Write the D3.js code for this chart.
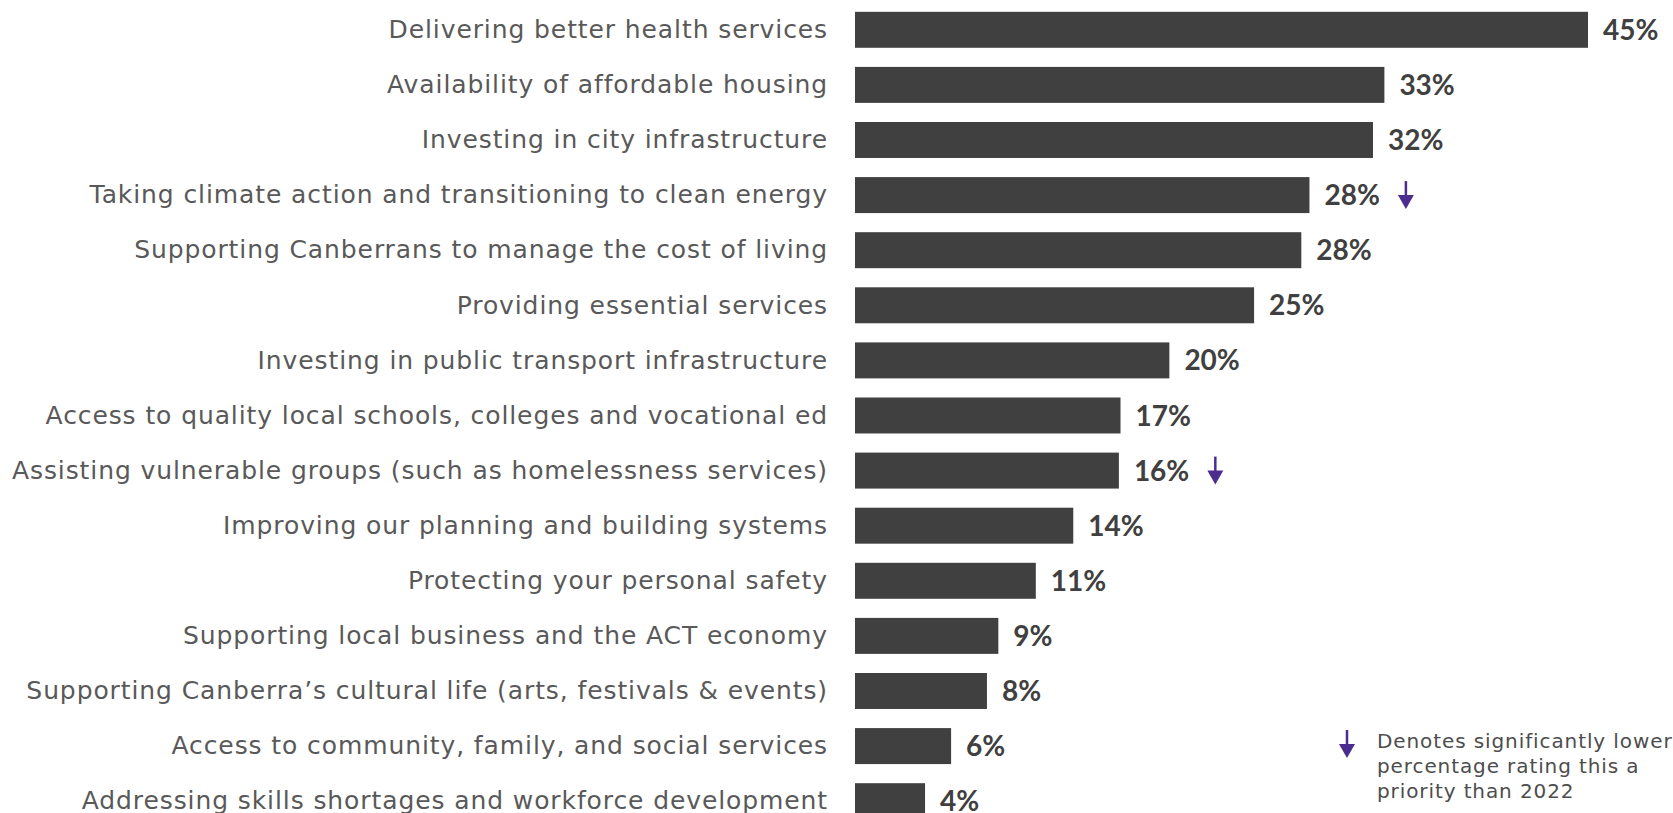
<!DOCTYPE html>
<html>
<head>
<meta charset="utf-8">
<script src="https://cdn.jsdelivr.net/npm/d3@7"></script>
<style>
  html, body { margin: 0; padding: 0; background: #ffffff; overflow: hidden; }
  svg { display: block; }
</style>
</head>
<body>
<svg id="chart" width="1673" height="813"></svg>
<script>
const categories = [
  "Delivering better health services",
  "Availability of affordable housing",
  "Investing in city infrastructure",
  "Taking climate action and transitioning to clean energy",
  "Supporting Canberrans to manage the cost of living",
  "Providing essential services",
  "Investing in public transport infrastructure",
  "Access to quality local schools, colleges and vocational ed",
  "Assisting vulnerable groups (such as homelessness services)",
  "Improving our planning and building systems",
  "Protecting your personal safety",
  "Supporting local business and the ACT economy",
  "Supporting Canberra\u2019s cultural life (arts, festivals & events)",
  "Access to community, family, and social services",
  "Addressing skills shortages and workforce development"
];
const values = [45, 32.5, 31.8, 27.9, 27.4, 24.5, 19.3, 16.3, 16.2, 13.4, 11.1, 8.8, 8.1, 5.9, 4.3];
const valueLabels = ["45%", "33%", "32%", "28%", "28%", "25%", "20%", "17%", "16%", "14%", "11%", "9%", "8%", "6%", "4%"];
const significantlyLower = [false, false, false, true, false, false, false, false, true, false, false, false, false, false, false];
const legendLines = ["Denotes significantly lower", "percentage rating this a", "priority than 2022"];

const data = categories.map((c, i) => ({ cat: c, value: values[i], label: valueLabels[i], lower: significantlyLower[i] }));

const svg = d3.select("#chart");
const barColor = "#404040";
const arrowColor = "#4B2D8F";
const catColor = "#595959";

const x = d3.scaleLinear().domain([0, 45]).range([855, 1588]);
const step = 55.1;
const padInner = 0.347;
const y = d3.scaleBand().domain(categories)
  .range([11.8 - step * padInner / 2, 11.8 - step * padInner / 2 + step * categories.length])
  .paddingInner(padInner).paddingOuter(padInner / 2);

// category axis (labels only)
const yAxis = d3.axisLeft(y).tickSize(0).tickPadding(0);
const gAxis = svg.append("g").attr("transform", "translate(828,0)").call(yAxis);
gAxis.select(".domain").remove();
gAxis.selectAll("text")
  .attr("font-family", "'DejaVu Sans', sans-serif")
  .attr("font-size", 25)
  .attr("letter-spacing", "0.9px")
  .attr("fill", catColor)
  .attr("dy", "0.33em");

// bars
svg.append("g").selectAll("rect").data(data).join("rect")
  .attr("x", x(0))
  .attr("y", d => y(d.cat))
  .attr("width", d => x(d.value) - x(0))
  .attr("height", y.bandwidth())
  .attr("fill", barColor);

// value labels
const vl = svg.append("g").selectAll("text").data(data).join("text")
  .attr("x", d => x(d.value) + 15)
  .attr("y", d => y(d.cat) + y.bandwidth() / 2)
  .attr("dy", "0.36em")
  .attr("font-family", "Lato, 'Open Sans', sans-serif")
  .attr("font-weight", "bold")
  .attr("font-size", 28)
  .attr("fill", barColor)
  .text(d => d.label);

function drawArrow(g, cx, top, bottom) {
  const headH = 14, headW = 16;
  g.append("line")
    .attr("x1", cx).attr("x2", cx)
    .attr("y1", top).attr("y2", bottom - headH + 1)
    .attr("stroke", arrowColor).attr("stroke-width", 2.5);
  g.append("path")
    .attr("d", `M${cx - headW / 2},${bottom - headH} L${cx + headW / 2},${bottom - headH} L${cx},${bottom} Z`)
    .attr("fill", arrowColor);
}

// significance arrows
const arrowsG = svg.append("g");
vl.each(function (d) {
  if (!d.lower) return;
  const w = this.getComputedTextLength();
  const cx = x(d.value) + 15 + w + 26;
  const cy = y(d.cat) + y.bandwidth() / 2;
  drawArrow(arrowsG, cx, cy - 14, cy + 14);
});

// legend
const legend = svg.append("g");
drawArrow(legend, 1347, 730, 758);
legend.selectAll("text").data(legendLines).join("text")
  .attr("x", 1377)
  .attr("y", (d, i) => 748 + i * 25)
  .attr("font-family", "'DejaVu Sans', sans-serif")
  .attr("font-size", 20)
  .attr("letter-spacing", "0.9px")
  .attr("fill", "#4d4d4d")
  .text(d => d);
</script>
</body>
</html>
